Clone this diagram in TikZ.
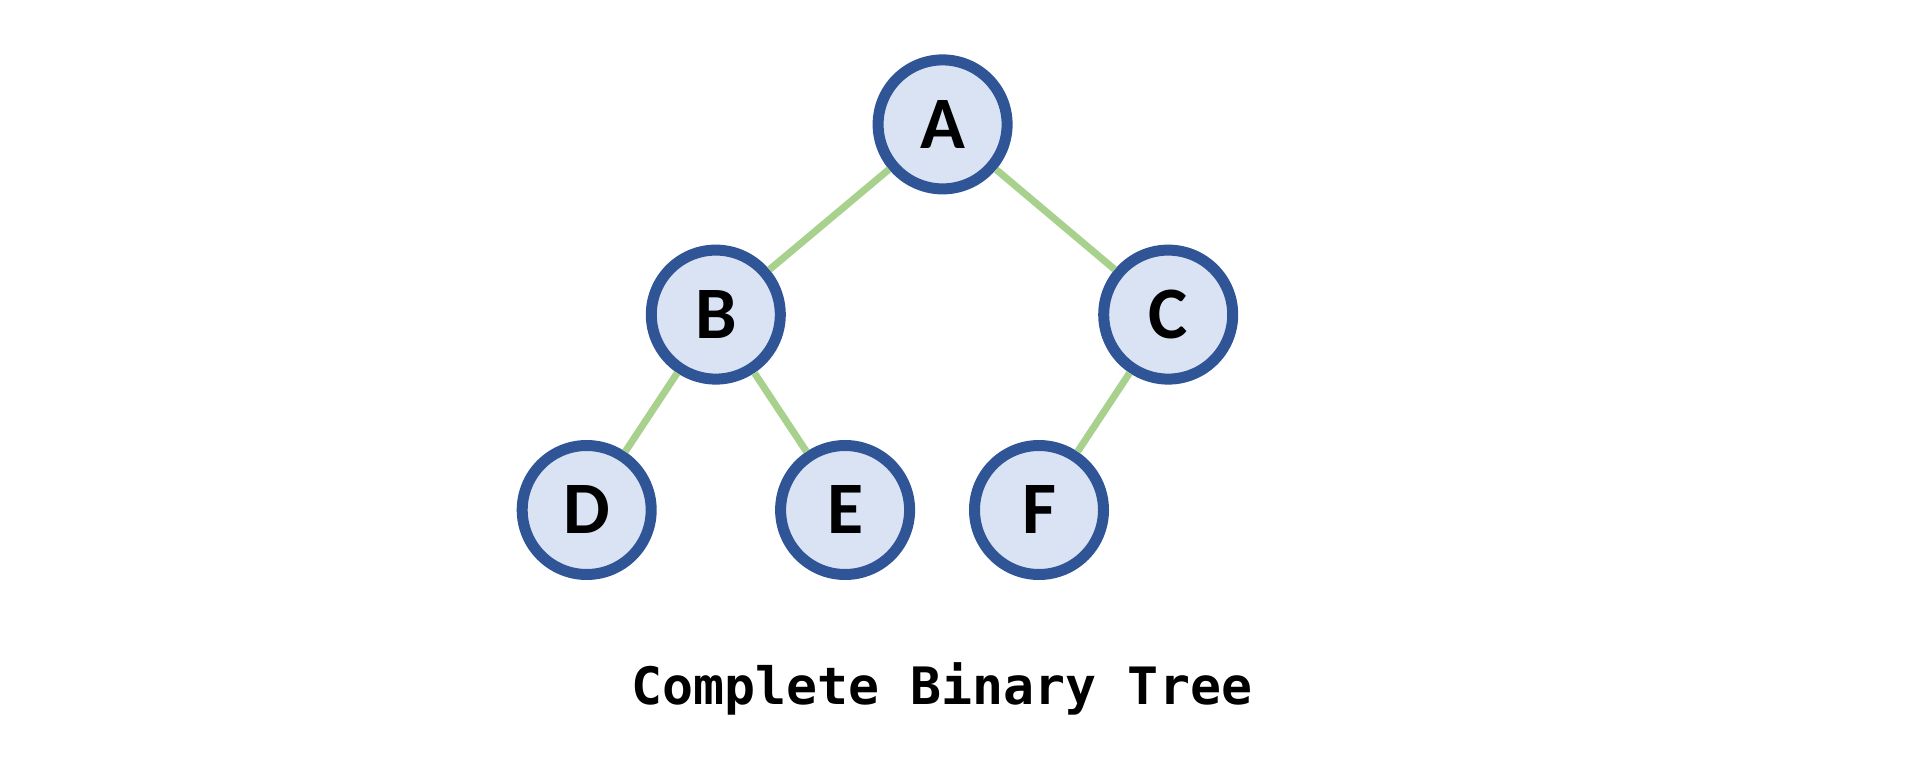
\documentclass[tikz,border=0pt]{standalone}
\usepackage{fontspec}
\newfontfamily\nodefont{Carlito}
\newfontfamily\titlefont{DejaVu Sans Mono}
\definecolor{nodeblue}{HTML}{2F5597}
\definecolor{nodefill}{HTML}{DAE3F3}
\definecolor{edgegreen}{HTML}{A9D18E}
\begin{document}
\begin{tikzpicture}[x=1pt,y=-1pt,
  treenode/.style={circle, draw=nodeblue, fill=nodefill, line width=11pt,
    minimum size=129pt, inner sep=0pt, text height=47.6pt, text depth=-3pt,
    font=\nodefont\bfseries\fontsize{74}{74}\selectfont},
  treeedge/.style={draw=edgegreen, line width=7pt}]
\useasboundingbox (0,0) rectangle (1912,757);
\node[treenode] (A) at (942.6,124.4) {A};
\node[treenode] (B) at (715.8,314.6) {B};
\node[treenode] (C) at (1168.2,314.6) {C};
\node[treenode] (D) at (586.7,510) {D};
\node[treenode] (E) at (845.1,510) {E};
\node[treenode] (F) at (1039.0,510) {F};
\draw[treeedge] (A) -- (B);
\draw[treeedge] (A) -- (C);
\draw[treeedge] (B) -- (D);
\draw[treeedge] (B) -- (E);
\draw[treeedge] (C) -- (F);
\node[font=\titlefont\bfseries\fontsize{51.5}{51.5}\selectfont, inner sep=0pt] (title) at (942,689) {Complete Binary Tree};
\end{tikzpicture}
\end{document}
